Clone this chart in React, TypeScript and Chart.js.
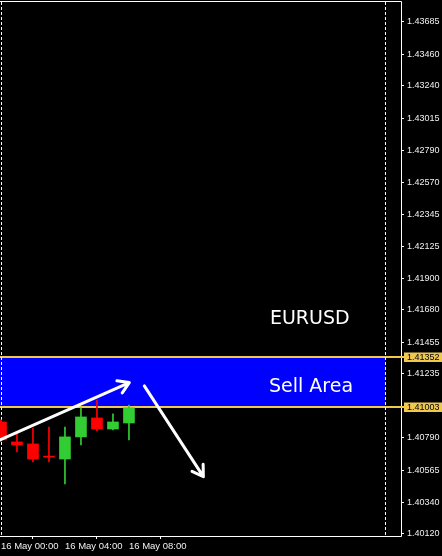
import React, { useEffect, useRef } from "react";
import { Chart, registerables } from "chart.js";

Chart.register(...registerables);

// EURUSD H1 candles, hours counted from 16 May 00:00
const HOURS = [0, 1, 2, 3, 4, 5, 6, 7, 8];
const OPEN = [1.409, 1.40761, 1.40747, 1.40657, 1.40642, 1.40796, 1.40928, 1.40851, 1.40893];
const CLOSE = [1.40775, 1.4074, 1.40642, 1.40655, 1.40796, 1.40935, 1.40851, 1.409, 1.40998];
const HIGH = [1.40915, 1.4083, 1.40858, 1.40865, 1.40865, 1.40998, 1.41053, 1.40956, 1.41018];
const LOW = [1.40765, 1.40691, 1.40622, 1.40622, 1.40468, 1.4074, 1.40837, 1.40844, 1.40775];

const PRICE_TICKS = [
  1.43685, 1.4346, 1.4324, 1.43015, 1.4279, 1.4257, 1.42345, 1.42125, 1.419, 1.4168,
  1.41455, 1.41235, 1.4079, 1.40565, 1.4034, 1.4012,
];
const TIME_TICKS = [0, 4, 8];
const TIME_LABELS = ["16 May 00:00", "16 May 04:00", "16 May 08:00"];

// Sell zone and chart objects
const SELL_TOP = 1.41352;
const SELL_BOTTOM = 1.41003;
const SELL_END_HOUR = 24;
const SHIFT_HOUR = 24;
const SEPARATOR_HOUR = 0;
const ARROW_UP: [number, number][] = [[-0.06, 1.40775], [8.02, 1.41174]];
const ARROW_DOWN: [number, number][] = [[8.96, 1.41151], [12.65, 1.40519]];
const SYMBOL_TEXT = "EURUSD";
const ZONE_TEXT = "Sell Area";
const SYMBOL_ANCHOR: [number, number] = [16.81, 1.41582];
const ZONE_ANCHOR: [number, number] = [16.75, 1.41111];

const BULL = "#32cd32";
const BEAR = "#ff0000";
const GOLD = "#f0c850";

const drawArrow = (ctx: CanvasRenderingContext2D, x0: number, y0: number, x1: number, y1: number) => {
  const ang = Math.atan2(y0 - y1, x0 - x1);
  const len = 12.5;
  const spread = (32 * Math.PI) / 180;
  ctx.beginPath();
  ctx.moveTo(x0, y0);
  ctx.lineTo(x1, y1);
  ctx.moveTo(x1 + len * Math.cos(ang + spread), y1 + len * Math.sin(ang + spread));
  ctx.lineTo(x1, y1);
  ctx.lineTo(x1 + len * Math.cos(ang - spread), y1 + len * Math.sin(ang - spread));
  ctx.stroke();
};

const overlay = {
  id: "overlay",
  beforeDatasetsDraw(chart: any) {
    const { ctx, chartArea: a, scales } = chart;
    const x = scales.x;
    const y = scales.y;
    ctx.save();
    ctx.beginPath();
    ctx.rect(a.left, a.top, a.right - a.left, a.bottom - a.top);
    ctx.clip();

    const yt = y.getPixelForValue(SELL_TOP);
    const yb = y.getPixelForValue(SELL_BOTTOM);
    const xe = x.getPixelForValue(SELL_END_HOUR);
    ctx.fillStyle = "#0000ff";
    ctx.fillRect(a.left, yt, xe - a.left, yb - yt);

    ctx.strokeStyle = GOLD;
    ctx.lineWidth = 2;
    for (const v of [SELL_TOP, SELL_BOTTOM]) {
      const py = Math.round(y.getPixelForValue(v));
      ctx.beginPath();
      ctx.moveTo(a.left, py);
      ctx.lineTo(a.right, py);
      ctx.stroke();
    }

    ctx.strokeStyle = "#ffffff";
    ctx.lineWidth = 1;
    ctx.setLineDash([3, 2]);
    for (const h of [SEPARATOR_HOUR, SHIFT_HOUR]) {
      const px = Math.round(x.getPixelForValue(h)) + 0.5;
      ctx.beginPath();
      ctx.moveTo(px, a.top);
      ctx.lineTo(px, a.bottom);
      ctx.stroke();
    }
    ctx.restore();
  },
  afterDatasetsDraw(chart: any) {
    const { ctx, chartArea: a, scales } = chart;
    const x = scales.x;
    const y = scales.y;
    ctx.save();
    ctx.beginPath();
    ctx.rect(a.left, a.top, a.right - a.left, a.bottom - a.top);
    ctx.clip();

    ctx.strokeStyle = "#ffffff";
    ctx.lineWidth = 3;
    ctx.lineCap = "round";
    ctx.lineJoin = "round";
    for (const arr of [ARROW_UP, ARROW_DOWN]) {
      drawArrow(
        ctx,
        x.getPixelForValue(arr[0][0]),
        y.getPixelForValue(arr[0][1]),
        x.getPixelForValue(arr[1][0]),
        y.getPixelForValue(arr[1][1])
      );
    }

    ctx.fillStyle = "#ffffff";
    ctx.font = '19px "DejaVu Sans"';
    ctx.textAlign = "left";
    ctx.textBaseline = "alphabetic";
    ctx.fillText(SYMBOL_TEXT, x.getPixelForValue(SYMBOL_ANCHOR[0]), y.getPixelForValue(SYMBOL_ANCHOR[1]));
    ctx.fillText(ZONE_TEXT, x.getPixelForValue(ZONE_ANCHOR[0]), y.getPixelForValue(ZONE_ANCHOR[1]));
    ctx.restore();

    // frame
    ctx.save();
    ctx.strokeStyle = "#ffffff";
    ctx.lineWidth = 1;
    ctx.beginPath();
    ctx.moveTo(a.left, a.top - 0.5);
    ctx.lineTo(a.right + 0.5, a.top - 0.5);
    ctx.lineTo(a.right + 0.5, a.bottom + 0.5);
    ctx.lineTo(a.left, a.bottom + 0.5);
    ctx.stroke();

    // price labels of the zone lines
    ctx.font = '9px "Liberation Sans"';
    ctx.textBaseline = "middle";
    ctx.textAlign = "left";
    for (const v of [SELL_TOP, SELL_BOTTOM]) {
      const py = Math.round(y.getPixelForValue(v));
      ctx.fillStyle = GOLD;
      ctx.fillRect(a.right, py - 1, 4, 2);
      ctx.fillRect(a.right + 3, py - 4.5, chart.width - a.right - 3, 9.5);
      ctx.fillStyle = "#000000";
      ctx.fillText(v.toFixed(5), a.right + 6, py + 0.5);
    }
    ctx.restore();
  },
};

export default function App() {
  const ref = useRef<HTMLCanvasElement | null>(null);

  useEffect(() => {
    document.body.style.margin = "0";
    document.body.style.background = "#000";
    const canvas = ref.current;
    if (!canvas) return;

    const bodies = HOURS.map((h, i) => ({ x: h, y: [OPEN[i], CLOSE[i]] }));
    const wicks = HOURS.map((h, i) => ({ x: h, y: [LOW[i], HIGH[i]] }));
    const colors = HOURS.map((_, i) => (CLOSE[i] >= OPEN[i] ? BULL : BEAR));

    const chart = new Chart(canvas, {
      type: "bar",
      data: {
        datasets: [
          {
            data: bodies as any,
            backgroundColor: colors,
            barThickness: 11,
            minBarLength: 1,
            grouped: false,
            borderWidth: 0,
            borderSkipped: false,
          },
          {
            data: wicks as any,
            backgroundColor: colors,
            barThickness: 1,
            grouped: false,
            borderWidth: 0,
            borderSkipped: false,
          },
        ],
      },
      plugins: [overlay],
      options: {
        animation: false,
        responsive: false,
        devicePixelRatio: 1,
        layout: { padding: { top: 2, left: 0, right: 0, bottom: 0 } },
        plugins: { legend: { display: false }, tooltip: { enabled: false } },
        scales: {
          x: {
            type: "linear",
            min: -0.06,
            max: -0.06 + 401 / 16,
            offset: false,
            afterBuildTicks: (s: any) => {
              s.ticks = TIME_TICKS.map((v) => ({ value: v }));
            },
            afterFit: (s: any) => {
              s.height = 20;
              s.paddingLeft = 0;
              s.paddingRight = 0;
            },
            grid: { display: true, drawOnChartArea: false, drawTicks: true, tickLength: 3, color: "#ffffff" },
            border: { display: false },
            ticks: {
              autoSkip: false,
              maxRotation: 0,
              minRotation: 0,
              align: "start",
              padding: 2,
              color: "#f0f0f0",
              font: { family: "Liberation Sans", size: 9.5 },
              callback: (v: any) => TIME_LABELS[TIME_TICKS.indexOf(Number(v))] ?? "",
            },
          },
          y: {
            type: "linear",
            position: "right",
            min: 1.40106,
            max: 1.43824,
            afterBuildTicks: (s: any) => {
              s.ticks = PRICE_TICKS.map((v) => ({ value: v }));
            },
            afterFit: (s: any) => {
              s.width = 41;
              s.paddingTop = 0;
              s.paddingBottom = 0;
            },
            grid: { display: true, drawOnChartArea: false, drawTicks: true, tickLength: 3, color: "#ffffff" },
            border: { display: false },
            ticks: {
              autoSkip: false,
              padding: 3,
              color: "#f0f0f0",
              font: { family: "Liberation Sans", size: 9 },
              callback: (v: any) => Number(v).toFixed(5),
            },
          },
        },
      },
    } as any);

    return () => chart.destroy();
  }, []);

  return (
    <div style={{ width: 442, height: 556, background: "#000" }}>
      <canvas ref={ref} width={442} height={556} style={{ display: "block" }} />
    </div>
  );
}
